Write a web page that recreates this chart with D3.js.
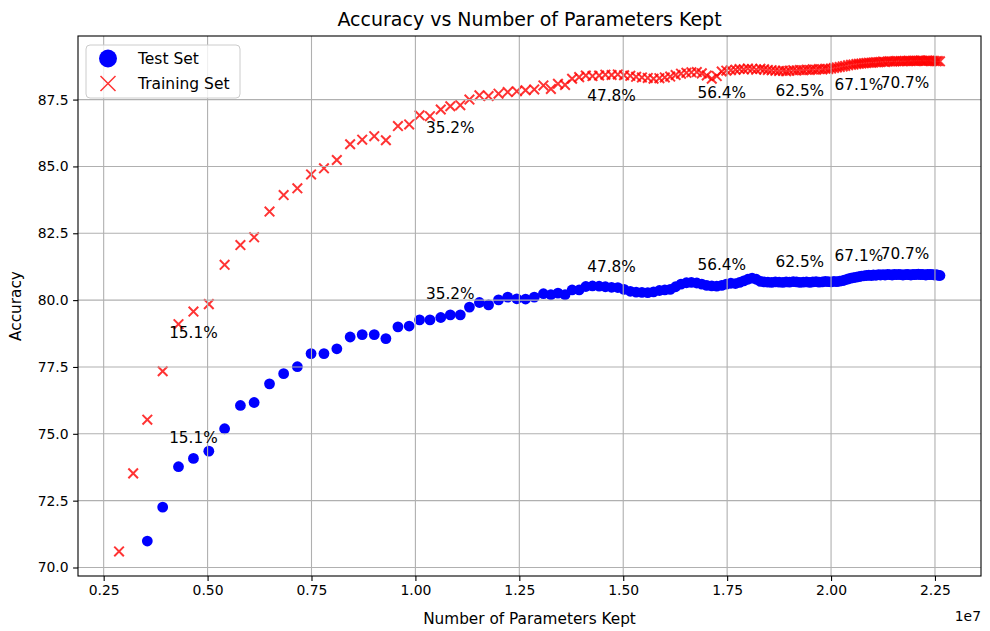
<!DOCTYPE html>
<html>
<head>
<meta charset="utf-8">
<script src="https://cdn.jsdelivr.net/npm/d3@7/dist/d3.min.js"></script>
<style>
  body { margin: 0; background: #fff; }
  svg { font-family: "DejaVu Sans", sans-serif; }
</style>
</head>
<body>
<svg id="chart"></svg>
<script>
// parameters kept, in millions (axis shows x1e7)
const paramsKeptM = [
  2.87, 3.21, 3.55, 3.92, 4.30, 4.66,
  5.03, 5.41, 5.79, 6.12, 6.49, 6.83, 7.16, 7.49, 7.80, 8.11, 8.43, 8.72, 9.01, 9.29, 9.58, 9.85, 10.10, 10.35, 10.61, 10.84,
  11.08, 11.30, 11.54, 11.76, 12.00, 12.22, 12.44, 12.65, 12.86, 13.08, 13.26, 13.43, 13.60, 13.77, 13.94, 14.10, 14.26, 14.42, 14.57, 14.72,
  14.87, 15.02, 15.17, 15.31, 15.45, 15.59, 15.73, 15.87, 16.00, 16.13, 16.26, 16.39, 16.52, 16.64, 16.77, 16.89, 17.01, 17.13, 17.25, 17.37,
  17.48, 17.59, 17.70, 17.80, 17.90, 18.00, 18.10, 18.20, 18.30, 18.39, 18.48, 18.57, 18.66, 18.75, 18.84, 18.92, 19.00, 19.09, 19.17, 19.25,
  19.33, 19.41, 19.49, 19.56, 19.64, 19.71, 19.79, 19.86, 19.93, 20.00, 20.07, 20.14, 20.21, 20.28, 20.34, 20.41, 20.48, 20.54, 20.61, 20.67,
  20.73, 20.79, 20.85, 20.91, 20.97, 21.02, 21.08, 21.14, 21.19, 21.25, 21.30, 21.36, 21.41, 21.47, 21.52, 21.57, 21.63, 21.68, 21.73, 21.78,
  21.83, 21.87, 21.92, 21.97, 22.01, 22.06, 22.10, 22.15, 22.19, 22.23, 22.28, 22.32, 22.36, 22.40, 22.45, 22.49, 22.53, 22.57, 22.62
];

const trainAcc = [
  70.60, 73.52, 75.53, 77.34, 79.10, 79.57, 79.85, 81.32, 82.06, 82.35, 83.31, 83.93, 84.18, 84.70, 84.93, 85.24, 85.83, 86.00, 86.13, 85.98,
  86.51, 86.57, 86.91, 86.88, 87.13, 87.25, 87.29, 87.50, 87.66, 87.63, 87.72, 87.78, 87.81, 87.85, 87.88, 88.03, 87.90, 88.09, 88.05, 88.28,
  88.34, 88.40,
  88.38, 88.40, 88.43, 88.42, 88.44, 88.41, 88.39, 88.35, 88.33, 88.31, 88.28, 88.30, 88.33, 88.36, 88.42, 88.47, 88.50, 88.52, 88.53, 88.48,
  88.40, 88.28, 88.38, 88.55,
  88.58, 88.60, 88.62, 88.64, 88.63, 88.66, 88.64, 88.62, 88.65, 88.63, 88.61, 88.60, 88.58, 88.57, 88.58, 88.56, 88.58, 88.60, 88.59, 88.61,
  88.60, 88.62, 88.61, 88.63, 88.62, 88.64, 88.63, 88.65, 88.64, 88.66, 88.68, 88.70, 88.72, 88.74, 88.76, 88.78, 88.80, 88.81, 88.83, 88.84,
  88.85, 88.86, 88.87, 88.88, 88.88, 88.89, 88.90, 88.90, 88.91, 88.92, 88.91, 88.92, 88.93, 88.92, 88.93, 88.94, 88.93, 88.94, 88.93, 88.94,
  88.94, 88.95, 88.94, 88.95, 88.95, 88.94, 88.95, 88.96, 88.95, 88.94, 88.95, 88.96, 88.95, 88.94, 88.95, 88.94, 88.93, 88.94, 88.93
];

// test set has no value for the first two runs
const testAcc = [
  null, null,
  70.99, 72.26, 73.77, 74.08, 74.35, 75.19, 76.06, 76.17, 76.87, 77.25, 77.51, 78.00, 78.00, 78.18, 78.62, 78.71, 78.71, 78.56,
  79.00, 79.03, 79.26, 79.26, 79.35, 79.45, 79.45, 79.74, 79.91, 79.82, 80.01, 80.11, 80.05, 80.04, 80.11, 80.24, 80.20, 80.26, 80.20, 80.38,
  80.38, 80.51,
  80.53, 80.52, 80.50, 80.48, 80.47, 80.40, 80.33, 80.30, 80.29, 80.28, 80.31, 80.36, 80.38, 80.40, 80.50, 80.60, 80.65, 80.66, 80.64, 80.60,
  80.55, 80.53, 80.52, 80.55, 80.60, 80.63, 80.62, 80.66, 80.72, 80.78, 80.82, 80.78, 80.70, 80.68, 80.67, 80.66, 80.68, 80.67, 80.66, 80.68,
  80.67, 80.69, 80.68, 80.66,
  80.67, 80.68, 80.66, 80.68, 80.69, 80.67, 80.68, 80.70, 80.69, 80.68, 80.70, 80.69, 80.71, 80.73, 80.76, 80.79, 80.82, 80.84, 80.86, 80.88,
  80.90, 80.91, 80.92, 80.93, 80.92, 80.94, 80.93, 80.95, 80.94, 80.95, 80.94, 80.96, 80.95, 80.94, 80.96, 80.95, 80.96, 80.95, 80.94, 80.95,
  80.96, 80.95, 80.94, 80.96, 80.95, 80.96, 80.97, 80.95, 80.96, 80.95, 80.94, 80.96, 80.95, 80.96, 80.95, 80.94, 80.95, 80.93, 80.92
];

const labelIdx = [5, 25, 45, 65, 85, 105, 125];
const labelText = ["15.1%", "35.2%", "47.8%", "56.4%", "62.5%", "67.1%", "70.7%"];

const xTicks = [2.5, 5, 7.5, 10, 12.5, 15, 17.5, 20, 22.5];
const yTicks = [70, 72.5, 75, 77.5, 80, 82.5, 85, 87.5];

const W = 990, H = 631;
const m = { left: 78, right: 9, top: 36, bottom: 55 };
const iw = W - m.left - m.right, ih = H - m.top - m.bottom;

const svg = d3.select("#chart").attr("width", W).attr("height", H);

// matplotlib style 5% margins
function padded(ext) {
  const p = (ext[1] - ext[0]) * 0.05;
  return [ext[0] - p, ext[1] + p];
}
const allY = trainAcc.concat(testAcc.filter(v => v != null));
const x = d3.scaleLinear().domain(padded(d3.extent(paramsKeptM))).range([m.left, m.left + iw]);
const y = d3.scaleLinear().domain(padded(d3.extent(allY))).range([m.top + ih, m.top]);

const train = paramsKeptM.map((p, i) => ({ p: p, v: trainAcc[i], i: i }));
const test = paramsKeptM.map((p, i) => ({ p: p, v: testAcc[i], i: i })).filter(d => d.v != null);

// test set dots
svg.append("g").selectAll("circle")
  .data(test)
  .enter()
  .append("circle")
    .attr("cx", d => x(d.p))
    .attr("cy", d => y(d.v))
    .attr("r", 5.4)
    .attr("fill", "#0000ff");

// training set crosses
const xs = 4.8;
svg.append("g").selectAll("path")
  .data(train)
  .enter()
  .append("path")
    .attr("d", d => {
      const cx = x(d.p), cy = y(d.v);
      return `M${cx - xs},${cy - xs}L${cx + xs},${cy + xs}M${cx - xs},${cy + xs}L${cx + xs},${cy - xs}`;
    })
    .attr("stroke", "#ff0000")
    .attr("stroke-opacity", 0.8)
    .attr("stroke-width", 2)
    .attr("fill", "none");

// grid (drawn over the markers, like the original)
const grid = svg.append("g").attr("stroke", "#b0b0b0").attr("stroke-width", 1.1);
grid.selectAll(".gx").data(xTicks).enter().append("line")
  .attr("x1", d => x(d)).attr("x2", d => x(d))
  .attr("y1", m.top).attr("y2", m.top + ih);
grid.selectAll(".gy").data(yTicks).enter().append("line")
  .attr("x1", m.left).attr("x2", m.left + iw)
  .attr("y1", d => y(d)).attr("y2", d => y(d));

// axes
const xAxis = svg.append("g")
  .attr("transform", `translate(0,${m.top + ih})`)
  .call(d3.axisBottom(x).tickValues(xTicks).tickSize(4.9).tickPadding(4.5)
    .tickFormat(d => (d / 10).toFixed(2)));
const yAxis = svg.append("g")
  .attr("transform", `translate(${m.left},0)`)
  .call(d3.axisLeft(y).tickValues(yTicks).tickSize(4.9).tickPadding(4.5)
    .tickFormat(d3.format(".1f")));
[xAxis, yAxis].forEach(a => {
  a.select(".domain").remove();
  a.selectAll("line").attr("stroke", "#000").attr("stroke-width", 1.1);
  a.selectAll("text").attr("font-size", "13.9px").attr("fill", "#000")
    .attr("font-family", "DejaVu Sans, sans-serif");
});

// frame
svg.append("rect")
  .attr("x", m.left).attr("y", m.top).attr("width", iw).attr("height", ih)
  .attr("fill", "none").attr("stroke", "#000").attr("stroke-width", 1.1);

// percentage annotations
const ann = svg.append("g").attr("font-size", "15.3px").attr("fill", "#000").attr("text-anchor", "middle");
ann.selectAll(".at").data(labelIdx).enter().append("text")
  .attr("x", d => x(paramsKeptM[d]))
  .attr("y", d => y(testAcc[d]) - 15.5)
  .text((d, k) => labelText[k]);
ann.selectAll(".ar").data(labelIdx).enter().append("text")
  .attr("x", d => x(paramsKeptM[d]))
  .attr("y", d => y(trainAcc[d]) + 26.5)
  .text((d, k) => labelText[k]);

// titles
svg.append("text")
  .attr("x", m.left + iw / 2).attr("y", 26)
  .attr("text-anchor", "middle").attr("font-size", "19px")
  .text("Accuracy vs Number of Parameters Kept");
svg.append("text")
  .attr("x", m.left + iw / 2).attr("y", 624)
  .attr("text-anchor", "middle").attr("font-size", "15.3px")
  .text("Number of Parameters Kept");
svg.append("text")
  .attr("x", m.left + iw).attr("y", 621)
  .attr("text-anchor", "end").attr("font-size", "13.9px")
  .text("1e7");
svg.append("text")
  .attr("transform", `translate(21,${m.top + ih / 2}) rotate(-90)`)
  .attr("text-anchor", "middle").attr("font-size", "15.3px")
  .text("Accuracy");

// legend
const lg = svg.append("g").attr("transform", `translate(${m.left + 8},${m.top + 9})`);
lg.append("rect")
  .attr("width", 154).attr("height", 53).attr("rx", 4)
  .attr("fill", "#fff").attr("fill-opacity", 0.8)
  .attr("stroke", "#cccccc").attr("stroke-width", 1);
lg.append("circle").attr("cx", 22).attr("cy", 13.5).attr("r", 9).attr("fill", "#0000ff");
lg.append("path")
  .attr("d", "M14.5,31L29.5,46M14.5,46L29.5,31")
  .attr("stroke", "#ff0000").attr("stroke-opacity", 0.8).attr("stroke-width", 1.5);
lg.append("text").attr("x", 52).attr("y", 19).attr("font-size", "15.5px").text("Test Set");
lg.append("text").attr("x", 52).attr("y", 44).attr("font-size", "15.5px").text("Training Set");
</script>
</body>
</html>
